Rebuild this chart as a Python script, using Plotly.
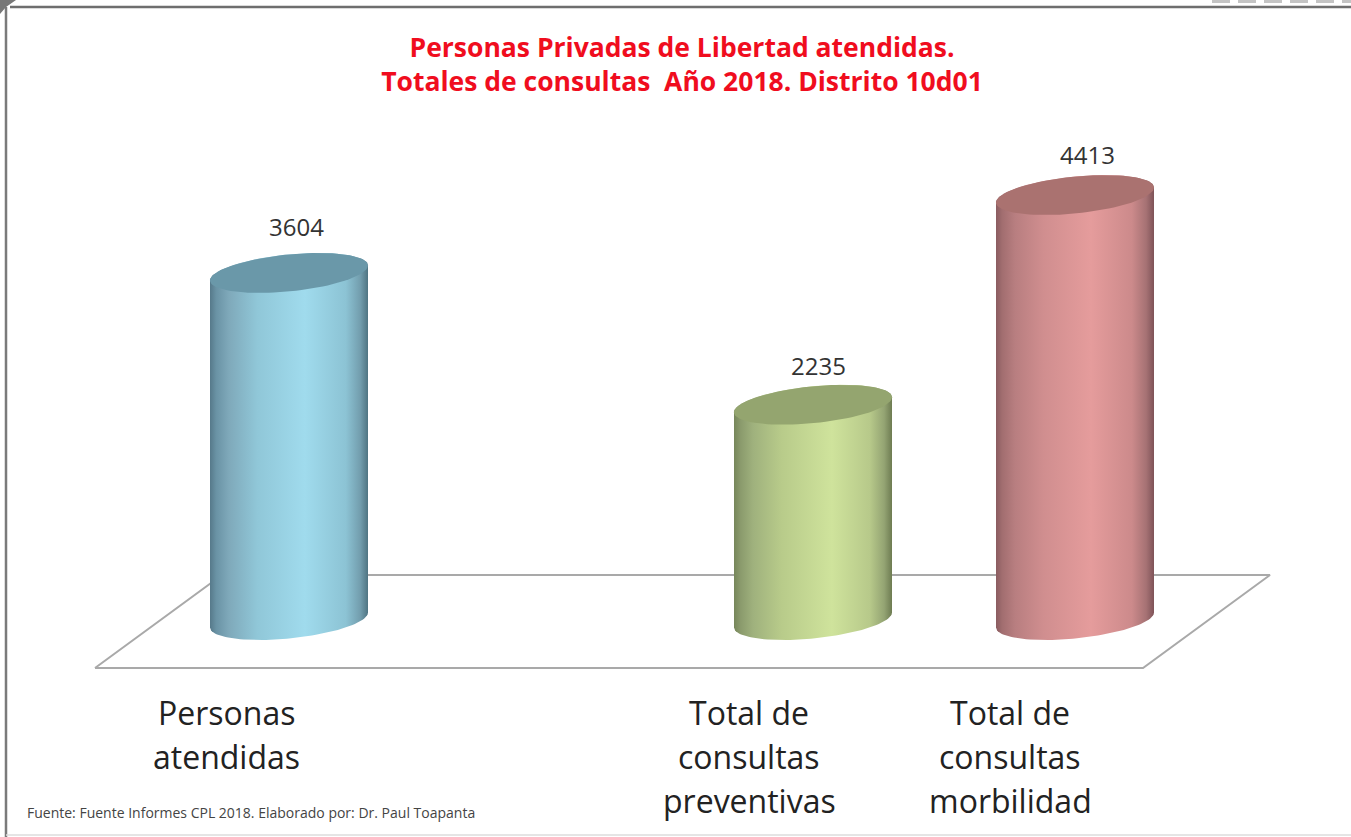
import numpy as np
import plotly.graph_objects as go

categories = ["Personas<br>atendidas", "", "Total de<br>consultas<br>preventivas", "Total de<br>consultas<br>morbilidad"]
values = [3604, None, 2235, 4413]
title_text = "Personas Privadas de Libertad atendidas.<br>Totales de consultas  Año 2018. Distrito 10d01"
footnote = "Fuente: Fuente Informes CPL 2018. Elaborado por: Dr. Paul Toapanta"

W, H = 1351, 837
PX_X0, PX_PER_CAT = 289, 262
PX_Y0, PX_PER_UNIT = 620, 0.0963

body_scales = [
    [[0, "#56798a"], [0.04, "#6a93a5"], [0.12, "#7fa9ba"], [0.3, "#90c7d8"], [0.6, "#a0dbed"], [0.86, "#8cc3d4"], [0.95, "#739eae"], [1, "#4f7482"]],
    None,
    [[0, "#76865a"], [0.04, "#8a9a6c"], [0.12, "#9fb17d"], [0.3, "#b8cb8a"], [0.62, "#cfe39c"], [0.86, "#b7c98a"], [0.95, "#94a473"], [1, "#6e7c52"]],
    [[0, "#8a5c60"], [0.04, "#a26e70"], [0.12, "#b87e80"], [0.3, "#d08e8f"], [0.6, "#e59c9c"], [0.86, "#cc8a8b"], [0.95, "#a67274"], [1, "#7f5358"]],
]
top_colors = ["#6a98a9", None, "#94a56f", "#aa7270"]
label_dx = [7, 0, 5, 12]
label_dy = [46, 0, 39, 41]
label_xshift = [-63, 0, -64, -65]

AX = 79 / PX_PER_CAT
SV = 7.5 / PX_PER_UNIT
BV = 18.5 / PX_PER_UNIT


def ux(px):
    return (px - PX_X0) / PX_PER_CAT


def uy(px):
    return (PX_Y0 - px) / PX_PER_UNIT


fig = go.Figure()

fig.add_trace(go.Scatter(
    x=[ux(95), ux(1143), ux(1270), ux(222), ux(95)],
    y=[uy(668), uy(668), uy(575), uy(575), uy(668)],
    mode="lines", line=dict(color="#a9a9a9", width=2), hoverinfo="skip", showlegend=False,
))

annotations = []
for i, (cat, v) in enumerate(zip(categories, values)):
    if v is not None:
        t = np.linspace(np.pi, 2 * np.pi, 60)
        bx = i + AX * np.cos(t)
        by = SV * np.cos(t) + BV * np.sin(t)
        t2 = np.linspace(0, np.pi, 60)
        tx = i + AX * np.cos(t2)
        ty = v + SV * np.cos(t2) + BV * np.sin(t2)
        fig.add_trace(go.Scatter(
            x=np.r_[bx, tx], y=np.r_[by, ty], mode="lines", line=dict(width=0),
            fill="toself",
            fillgradient=dict(type="horizontal", colorscale=body_scales[i]),
            hoverinfo="skip", showlegend=False,
        ))
        t3 = np.linspace(0, 2 * np.pi, 90)
        fig.add_trace(go.Scatter(
            x=i + AX * np.cos(t3), y=v + SV * np.cos(t3) + BV * np.sin(t3),
            mode="lines", line=dict(width=0), fill="toself", fillcolor=top_colors[i],
            hoverinfo="skip", showlegend=False,
        ))
        annotations.append(dict(
            x=i, y=v, xref="x", yref="y", text=str(v), showarrow=False,
            xshift=label_dx[i], yshift=label_dy[i], yanchor="middle",
            font=dict(family="Open Sans", size=24, color="#333333"),
        ))
    for j, line in enumerate(cat.split("<br>") if cat else []):
        annotations.append(dict(
            x=i, xref="x", y=1 - (712 + 44 * j) / H, yref="paper", text=line, showarrow=False,
            xshift=label_xshift[i], yanchor="middle",
            font=dict(family="Open Sans", size=32, color="#222222"),
        ))

annotations.append(dict(
    x=25 / W, y=1 - 812 / H, xref="paper", yref="paper", xanchor="left", yanchor="middle",
    text=footnote, showarrow=False, font=dict(family="Open Sans", size=14, color="#444444"),
))

fig.update_layout(
    width=W, height=H, margin=dict(l=0, r=0, t=0, b=0),
    paper_bgcolor="white", plot_bgcolor="white", showlegend=False,
    title=dict(
        text=title_text, x=682 / W, xanchor="center", y=1 - 57 / H, yanchor="top", yref="container",
        font=dict(family="Open Sans", size=26.5, color="#f00d1e", weight="bold"),
    ),
    xaxis=dict(range=[ux(0), ux(W)], visible=False, fixedrange=True),
    yaxis=dict(range=[uy(H), uy(0)], visible=False, fixedrange=True),
    annotations=annotations,
    shapes=[
        dict(type="line", xref="paper", yref="paper", x0=10 / W, x1=1, y0=1 - 7 / H, y1=1 - 7 / H,
             line=dict(color="#6e6e6e", width=2.5)),
        dict(type="line", xref="paper", yref="paper", x0=6 / W, x1=6 / W, y0=0, y1=1 - 7 / H,
             line=dict(color="#7a7a7a", width=2.5)),
        dict(type="line", xref="paper", yref="paper", x0=6 / W, x1=1, y0=2 / H, y1=2 / H,
             line=dict(color="#dddddd", width=1.5)),
        dict(type="line", xref="paper", yref="paper", x0=1212 / W, x1=1, y0=1 - 1.5 / H, y1=1 - 1.5 / H,
             line=dict(color="#c4c4c4", width=3, dash="18px,8px")),
        dict(type="path", xref="paper", yref="paper",
             path=f"M 0 {1-14/H} L {6/W} {1-7/H} L {16/W} 1 L 0 1 Z",
             fillcolor="#777777", line=dict(width=0)),
    ],
)

fig.write_html("out.html", config={"displayModeBar": False},
               post_script="document.body.style.margin='0';document.documentElement.style.overflow='hidden';")
